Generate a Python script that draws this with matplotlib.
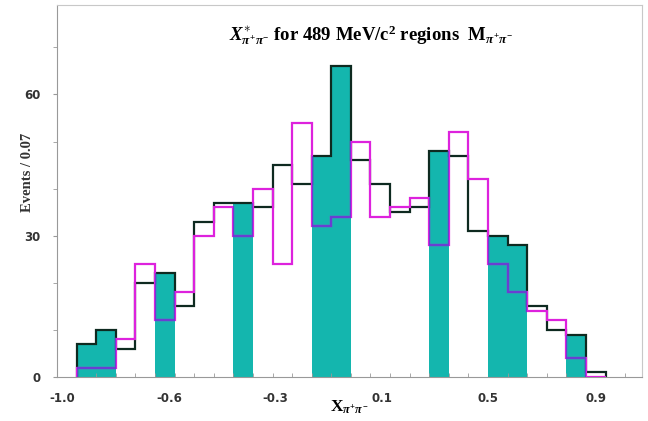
import numpy as np
import matplotlib.pyplot as plt
from matplotlib.path import Path
from matplotlib.transforms import Affine2D
from matplotlib.ticker import MultipleLocator, FixedLocator

plt.rcParams['mathtext.fontset'] = 'custom'
plt.rcParams['mathtext.rm'] = 'Liberation Serif:bold'
plt.rcParams['mathtext.it'] = 'Liberation Serif:italic:bold'
plt.rcParams['mathtext.bf'] = 'Liberation Serif:bold'

# histogram bins, 0.07 wide
bin_lo = -0.93
bin_w = 0.07
n_bins = 27

# events per bin, all regions (black) and comparison sample (magenta)
counts_all = [7, 10, 6, 20, 22, 15, 33, 37, 37, 36, 45, 41, 47, 66,
              46, 41, 35, 36, 48, 47, 31, 30, 28, 15, 10, 9, 1]
counts_cmp = [2, 2, 8, 24, 12, 18, 30, 36, 30, 40, 24, 54, 32, 34,
              50, 34, 36, 38, 28, 52, 42, 24, 18, 14, 12, 4, 0]
# bins belonging to the 489 MeV/c2 regions (filled)
in_region = [1, 1, 0, 0, 1, 0, 0, 0, 1, 0, 0, 0, 1, 1,
             0, 0, 0, 0, 1, 0, 0, 1, 1, 0, 0, 1, 0]

xtick_pos = [-0.98, -0.60, -0.22, 0.16, 0.54, 0.925]
xtick_lab = ['-1.0', '-0.6', '-0.3', '0.1', '0.5', '0.9']

teal = '#14b6ae'
dark = '#0e2a20'
mag = '#dd22dd'
purple = '#6a3ed2'

edges = bin_lo + bin_w * np.arange(n_bins + 1)
counts_all = np.array(counts_all)
counts_cmp = np.array(counts_cmp)
fill_h = counts_all * np.array(in_region)

fig = plt.figure(figsize=(6.48, 4.21), dpi=100)
ax = fig.add_axes([57 / 648, 1 - 377 / 421, (642 - 57) / 648, (377 - 5) / 421])

ax.bar(edges[:-1], fill_h, width=bin_w, align='edge', color=teal, linewidth=0, zorder=1)

ax.stairs(counts_all, edges, baseline=0, color=dark, linewidth=1.6, zorder=2)
ax.stairs(counts_cmp, edges, baseline=0, color=mag, linewidth=1.6, zorder=3)

# magenta looks violet where it runs over the filled bars
rects = [Path.unit_rectangle().transformed(Affine2D().scale(bin_w, h).translate(x0, 0))
         for x0, h in zip(edges[:-1], fill_h) if h > 0]
clip = Path.make_compound_path(*rects)
over = ax.stairs(counts_cmp, edges, baseline=0, color=purple, linewidth=1.6, zorder=4)
over.set_clip_path(clip, ax.transData)

ax.set_xlim(-1.0, 1.09)
ax.set_ylim(0, 79)

ax.xaxis.set_major_locator(FixedLocator(xtick_pos))
ax.set_xticklabels(xtick_lab)
ax.xaxis.set_minor_locator(FixedLocator(-1.0 + bin_w * np.arange(31)))
ax.yaxis.set_major_locator(FixedLocator([0, 30, 60]))
ax.yaxis.set_minor_locator(MultipleLocator(10))

ax.tick_params(axis='x', which='major', length=0, pad=11, labelsize=8.5, labelcolor='#333333')
ax.tick_params(axis='x', which='minor', length=3, direction='in', color='#999999')
ax.tick_params(axis='y', which='both', length=3, direction='out', color='#999999', pad=9,
               labelsize=8.5, labelcolor='#333333')
for lab in ax.get_xticklabels() + ax.get_yticklabels():
    lab.set_fontweight('bold')

for side in ['left', 'bottom']:
    ax.spines[side].set_color('#999999')
for side in ['top', 'right']:
    ax.spines[side].set_color('#c8c8c8')

fig.text(371 / 648, 1 - 35 / 421,
         r'$X^{\ast}_{\pi^{+}\pi^{-}}$ for 489 MeV/c$^{2}$ regions  M$_{\pi^{+}\pi^{-}}$',
         ha='center', va='center', fontsize=13.5, fontweight='bold',
         family='Liberation Serif')
fig.text(28 / 648, 1 - 172 / 421, 'Events / 0.07', rotation=90, ha='center', va='center',
         fontsize=10.5, fontweight='bold', family='Liberation Serif', color='#333333')
fig.text(349 / 648, 1 - 407 / 421, r'X$_{\pi^{+}\pi^{-}}$', ha='center', va='center',
         fontsize=12.5, fontweight='bold', family='Liberation Serif')

fig.savefig('out.png', dpi=100)
